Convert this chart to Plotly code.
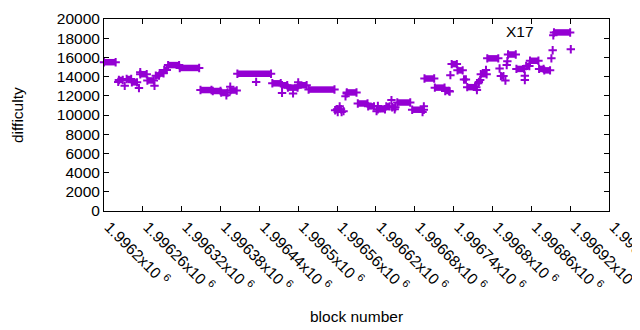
import plotly.graph_objects as go

# Runs of constant difficulty: start block, end block, difficulty
run_start = [1996200, 1996223, 1996235, 1996243, 1996256, 1996267, 1996280, 1996286, 1996293, 1996299,
             1996317, 1996349, 1996368, 1996381, 1996395, 1996406, 1996460, 1996475, 1996484, 1996500,
             1996516, 1996560, 1996575, 1996592, 1996608, 1996623, 1996636, 1996645, 1996653, 1996676,
             1996695, 1996711, 1996727, 1996737, 1996746, 1996756, 1996761, 1996782, 1996792, 1996813,
             1996824, 1996837, 1996852, 1996858, 1996872, 1996880, 1996895]
run_end = [1996218, 1996229, 1996242, 1996251, 1996266, 1996277, 1996285, 1996292, 1996297, 1996316,
           1996347, 1996366, 1996380, 1996391, 1996405, 1996458, 1996473, 1996483, 1996499, 1996513,
           1996556, 1996566, 1996590, 1996607, 1996617, 1996634, 1996641, 1996650, 1996673, 1996694,
           1996710, 1996726, 1996733, 1996745, 1996754, 1996759, 1996775, 1996791, 1996809, 1996817,
           1996836, 1996849, 1996857, 1996871, 1996879, 1996889, 1996920]
run_value = [15500, 13650, 13750, 13400, 14250, 13600, 14100, 14350, 14700, 15200,
             14900, 12600, 12500, 12350, 12550, 14300, 13300, 13100, 12850, 13100,
             12650, 10600, 12350, 11200, 10900, 10600, 10900, 10800, 11300, 10550,
             13800, 12850, 12500, 15300, 14650, 13700, 12900, 14250, 15900, 14050,
             16300, 14800, 15100, 15650, 14800, 14650, 18600]

# Isolated blocks
pt_block = [1996222, 1996232, 1996254, 1996256, 1996278, 1996389, 1996395, 1996435, 1996475, 1996492,
            1996500, 1996557, 1996561, 1996564, 1996567, 1996570, 1996573, 1996575, 1996621, 1996623,
            1996644, 1996649, 1996692, 1996694, 1996735, 1996734, 1996776, 1996778, 1996779, 1996781,
            1996790, 1996811, 1996820, 1996822, 1996823, 1996850, 1996850, 1996891, 1996893, 1996894,
            1996921]
pt_value = [13450, 13050, 12800, 14450, 13050, 12050, 12950, 13450, 12300, 12250,
            13400, 10500, 10300, 10900, 10300, 10400, 11950, 12250, 10400, 10950,
            11550, 10600, 10300, 10900, 14150, 12450, 12600, 13300, 13450, 13650,
            14700, 14850, 13600, 15200, 15600, 14100, 13650, 15900, 16750, 18300,
            16850]

x_tickvals = [1996200 + 60 * i for i in range(14)]
x_ticktext = ["1.9962", "1.99626", "1.99632", "1.99638", "1.99644", "1.9965", "1.99656",
              "1.99662", "1.99668", "1.99674", "1.9968", "1.99686", "1.99692", "1.99698"]
y_tickvals = [0, 2000, 4000, 6000, 8000, 10000, 12000, 14000, 16000, 18000, 20000]

COLOR = "#9400d3"
FONT = "Liberation Sans, Arial, sans-serif"
FS = 15.5

rx, ry = [], []
for s, e, v in zip(run_start, run_end, run_value):
    rx += [s, e, None]
    ry += [v, v, None]

fig = go.Figure()
fig.add_trace(go.Scatter(
    x=rx, y=ry, mode="lines+markers",
    line=dict(color=COLOR, width=6.5),
    marker=dict(symbol="cross-thin", size=6, line=dict(color=COLOR, width=2)),
    cliponaxis=False, showlegend=False, hoverinfo="skip"))
fig.add_trace(go.Scatter(
    x=pt_block, y=pt_value, mode="markers",
    marker=dict(symbol="cross-thin", size=6, line=dict(color=COLOR, width=2)),
    cliponaxis=False, showlegend=False))

axis_common = dict(showline=True, linecolor="black", linewidth=1, mirror="allticks",
                   ticks="inside", ticklen=5, tickcolor="black", showgrid=False, zeroline=False,
                   automargin=False, ticklabeloverflow="allow",
                   tickfont=dict(family=FONT, size=FS, color="black"))

fig.update_xaxes(range=[1996200, 1996980], tickvals=x_tickvals,
                 ticktext=[t + "x10 <sup>6</sup>" for t in x_ticktext],
                 tickangle=45, ticklabelshift=5, **axis_common)
fig.update_yaxes(range=[0, 20000], tickvals=y_tickvals,
                 ticktext=[str(v) for v in y_tickvals], **axis_common)

# page body has an 8px margin, so the figure is sized/offset to compensate
fig.update_layout(
    width=632, height=322,
    margin=dict(l=96, r=31, t=11, b=119),
    paper_bgcolor="white", plot_bgcolor="white",
    font=dict(family=FONT, size=FS, color="black"),
    annotations=[
        dict(text="difficulty", xref="paper", yref="paper", x=0, y=0.5,
             xshift=-87, textangle=-90, showarrow=False, xanchor="center", yanchor="middle",
             font=dict(family=FONT, size=FS, color="black")),
        dict(text="block number", xref="paper", yref="paper", x=0.5, y=0,
             yshift=-105, showarrow=False, xanchor="center", yanchor="middle",
             font=dict(family=FONT, size=FS, color="black")),
        dict(text="X17", xref="paper", yref="paper", x=0, y=1,
             xshift=432, yshift=-12, showarrow=False, xanchor="right", yanchor="middle",
             font=dict(family=FONT, size=FS, color="black")),
    ],
)

fig.write_html("out.html")
